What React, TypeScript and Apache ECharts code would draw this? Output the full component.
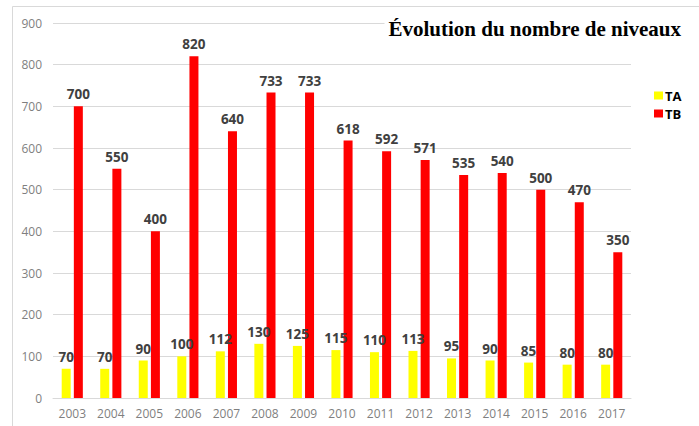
import React, { useEffect, useRef } from "react";
import * as echarts from "echarts";

const years = ["2003","2004","2005","2006","2007","2008","2009","2010","2011","2012","2013","2014","2015","2016","2017"];
const taValues = [70, 70, 90, 100, 112, 130, 125, 115, 110, 113, 95, 90, 85, 80, 80];
const tbValues = [700, 550, 400, 820, 640, 733, 733, 618, 592, 571, 535, 540, 500, 470, 350];
const titleText = "Évolution du nombre de niveaux";

export default function App() {
  const ref = useRef<HTMLDivElement>(null);
  useEffect(() => {
    if (!ref.current) return;
    const chart = echarts.init(ref.current, undefined, { renderer: "svg" });
    const labelStyle = {
      show: true,
      position: "top" as const,
      distance: 5,
      color: "#404040",
      fontWeight: "bold" as const,
      fontSize: 13.5,
      fontFamily: "Open Sans, Liberation Sans, sans-serif",
    };
    chart.setOption({
      animation: false,
      backgroundColor: "#fff",
      title: {
        text: titleText,
        right: 14,
        top: 17,
        padding: [1, 4, 1, 4],
        backgroundColor: "#fff",
        textStyle: {
          fontFamily: "Liberation Serif, DejaVu Serif, serif",
          fontWeight: "bold",
          fontSize: 21,
          color: "#000",
        },
      },
      graphic: [
        {
          type: "rect",
          z: -10,
          shape: { x: 12.5, y: 6.5, width: 720, height: 440 },
          style: { fill: "none", stroke: "#d9d9d9", lineWidth: 1 },
        },
      ],
      legend: {
        orient: "vertical",
        left: 649,
        top: 84,
        itemWidth: 9,
        itemHeight: 8,
        itemGap: 5,
        icon: "rect",
        textStyle: { fontWeight: "bold", fontSize: 13, color: "#000", fontFamily: "Open Sans, Liberation Sans, sans-serif", padding: [0, 0, 0, -3] },
        data: ["TA", "TB"],
      },
      grid: { left: 53, right: 68, top: 23, bottom: 28, containLabel: false },
      xAxis: {
        type: "category",
        data: years,
        axisLine: { show: true, lineStyle: { color: "#d9d9d9" } },
        axisTick: { show: false },
        axisLabel: { color: "#7f7f7f", fontSize: 12, margin: 9, fontFamily: "Open Sans, Liberation Sans, sans-serif" },
      },
      yAxis: {
        type: "value",
        min: 0,
        max: 900,
        interval: 100,
        axisLine: { show: false },
        axisTick: { show: false },
        splitLine: { lineStyle: { color: "#d9d9d9" } },
        axisLabel: { color: "#7f7f7f", fontSize: 12, margin: 11, fontFamily: "Open Sans, Liberation Sans, sans-serif" },
      },
      series: [
        {
          name: "TA",
          type: "bar",
          data: taValues,
          barWidth: 9,
          barGap: "35%",
          itemStyle: { color: "#ffff00" },
          label: labelStyle,
          z: 3,
        },
        {
          name: "TB",
          type: "bar",
          data: tbValues,
          barWidth: 9,
          itemStyle: { color: "#ff0000" },
          label: labelStyle,
          z: 2,
        },
      ],
    });
    return () => chart.dispose();
  }, []);
  return (
    <div
      ref={ref}
      style={{ position: "fixed", left: 0, top: 0, width: 699, height: 426 }}
    />
  );
}
